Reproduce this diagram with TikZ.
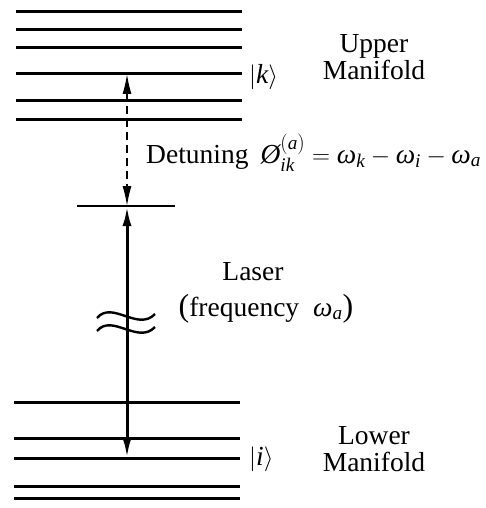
\documentclass[tikz,border=0pt]{standalone}
\usepackage{amsmath}
\usepackage{fontspec}
\setmainfont{Liberation Serif}
\usetikzlibrary{arrows.meta}
\newcommand{\ti}[1]{\textit{#1}}
\tikzset{tipa/.tip={Latex[length=20pt,width=9pt]}}
\begin{document}
\begin{tikzpicture}[x=1pt,y=-1pt,
  levelline/.style={line width=3pt},
  lbl/.style={font=\fontsize{27.5}{27}\selectfont, inner sep=0pt, align=center}]
\useasboundingbox[fill=white] (0,0) rectangle (486,508);
% upper manifold
\foreach \y/\n in {12/ua,30/ub,48/uc,74/uk,101/ud,119/ue}
  \draw[levelline] (16,\y) coordinate (\n l) -- (242,\y) coordinate (\n r);
% lower manifold
\foreach \y/\n in {402/la,438/lb,458/li,486/lc,498/ld}
  \draw[levelline] (14,\y) coordinate (\n l) -- (240,\y) coordinate (\n r);
% virtual level
\coordinate (vl) at (77,206);
\coordinate (vr) at (175,206);
\draw[line width=1.3pt] (vl) -- (vr);
% arrow end points
\coordinate (ka) at (127,74);
\coordinate (va) at (127,206);
\coordinate (ia) at (127,458);
\draw[line width=1.5pt, dash pattern=on 8pt off 5pt, tipa-tipa] (ka) -- (va);
\draw[line width=3pt, tipa-tipa] (va) -- (ia);
% break mark
\draw[line width=2.4pt] (97,318) .. controls (112,300) and (138,332) .. (155,314);
\draw[line width=2.4pt] (97,331) .. controls (112,313) and (138,345) .. (155,327);
% labels
\node[lbl, anchor=west] (klab) at (249,77) {$|\ti{k}\rangle$};
\node[lbl, anchor=west] (ilab) at (249,459) {$|\ti{i}\rangle$};
\node[lbl] (upper) at (374,57) {Upper\\Manifold};
\node[lbl] (lower) at (374,449) {Lower\\Manifold};
\node[lbl, anchor=base west] (det) at (146,163) {Detuning\hspace{12pt}$\ti{Ø}^{(\ti{a})}_{\ti{ik}} = \ti{ω}_{\ti{k}} - \ti{ω}_{\ti{i}} - \ti{ω}_{\ti{a}}$};
\node[lbl, anchor=base] (laser) at (253,280) {Laser};
\node[lbl, anchor=base] (freq) at (266,316) {{\fontsize{32}{32}\selectfont(}frequency\hspace{14pt}$\ti{ω}_{\ti{a}}${\fontsize{32}{32}\selectfont)}};
\end{tikzpicture}
\end{document}
